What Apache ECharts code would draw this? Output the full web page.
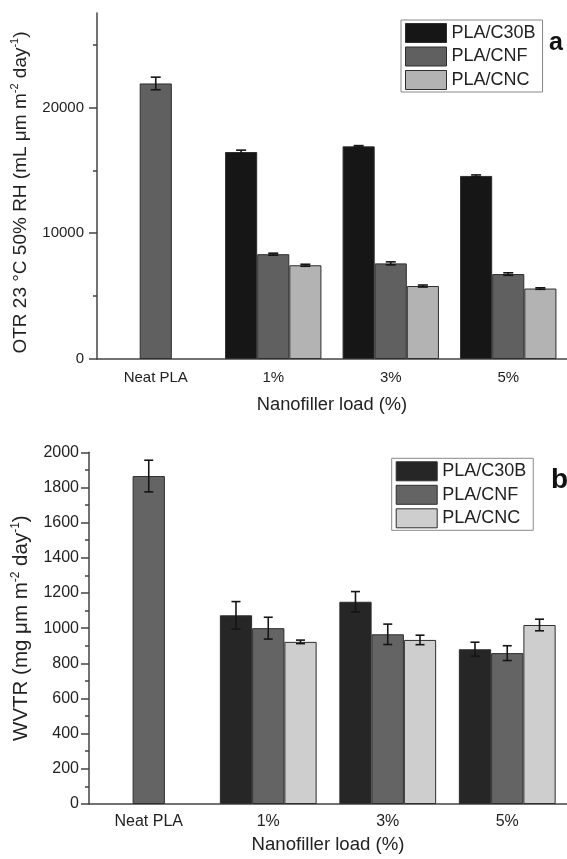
<!DOCTYPE html>
<html><head><meta charset="utf-8">
<script src="https://cdn.jsdelivr.net/npm/echarts@6/dist/echarts.min.js"></script>
<style>html,body{margin:0;padding:0;background:#fff}#c{width:567px;height:859px}</style>
</head><body><div id="c"></div>
<script>
// ---- data ----
const categories = ['Neat PLA', '1%', '3%', '5%'];
const seriesNames = ['PLA/C30B', 'PLA/CNF', 'PLA/CNC'];

// (a) OTR 23 °C 50% RH
const otrC30B = [null, 16450, 16900, 14550];
const otrCNF  = [21900, 8330, 7600, 6750];
const otrCNC  = [null, 7450, 5800, 5600];
const otrC30BErr = [null, 150, 60, 80];
const otrCNFErr  = [500, 80, 120, 100];
const otrCNCErr  = [null, 80, 80, 60];
const otrMajorTicks = [0, 10000, 20000];
const otrMinorTicks = [5000, 15000, 25000];
const otrMax = 27500;

// (b) WVTR
const wvtrC30B = [null, 1073, 1150, 880];
const wvtrCNF  = [1865, 1000, 965, 858];
const wvtrCNC  = [null, 922, 933, 1018];
const wvtrC30BErr = [null, 78, 58, 40];
const wvtrCNFErr  = [90, 62, 58, 42];
const wvtrCNCErr  = [null, 10, 27, 33];
const wvtrMax = 2000;
const wvtrInterval = 200;

// ---- styling ----
const FONT = "'Liberation Sans', Arial, sans-serif";
const colorsA = ['#161616', '#606060', '#b3b3b3'];
const colorsB = ['#262626', '#646464', '#cecece'];
const edge = '#2e2e2e';
const axisCol = '#444';
const txtCol = '#222';
const gapA = 0.18, gapB = 0.19;
const plain = v => String(v);

function errData(vals, errs) {
  const out = [];
  vals.forEach((v, i) => { if (v != null) out.push([i, v - errs[i], v + errs[i]]); });
  return out;
}
function errRender(offsetIdx, catGap, capW) {
  return function (params, api) {
    const x = api.value(0), lo = api.value(1), hi = api.value(2);
    const t = api.coord([x, hi]), b = api.coord([x, lo]);
    const band = api.size([1, 0])[0];
    const bw = band * (1 - catGap) / 3;
    const cx = t[0] + offsetIdx * bw;
    const st = { stroke: '#151515', lineWidth: 1.6 };
    return { type: 'group', children: [
      { type: 'line', shape: { x1: cx, y1: t[1], x2: cx, y2: b[1] }, style: st },
      { type: 'line', shape: { x1: cx - capW / 2, y1: t[1], x2: cx + capW / 2, y2: t[1] }, style: st },
      { type: 'line', shape: { x1: cx - capW / 2, y1: b[1], x2: cx + capW / 2, y2: b[1] }, style: st }
    ]};
  };
}

const axisLine = { show: true, lineStyle: { color: axisCol, width: 1.5 } };
const tickStyle = { color: axisCol, width: 1.5 };

function barSeries(name, data, color, xi, yi, gap) {
  return { type: 'bar', name, data, xAxisIndex: xi, yAxisIndex: yi,
    barGap: '0%', barCategoryGap: (gap * 100) + '%',
    itemStyle: { color, borderColor: edge, borderWidth: 1 }, z: 2 };
}
function errSeries(vals, errs, off, xi, yi, gap, cap) {
  return { type: 'custom', data: errData(vals, errs), xAxisIndex: xi, yAxisIndex: yi,
    encode: { x: 0, y: [1, 2] }, renderItem: errRender(off, gap, cap), z: 5, clip: false };
}

const chart = echarts.init(document.getElementById('c'), null, { renderer: 'canvas' });
chart.setOption({
  animation: false,
  backgroundColor: '#fff',
  textStyle: { fontFamily: FONT },
  title: [
    { text: 'a', left: 549, top: 31, padding: 0, textStyle: { fontFamily: FONT, fontSize: 25, fontWeight: 'bold', color: '#111' } },
    { text: 'b', left: 551, top: 466, padding: 0, textStyle: { fontFamily: FONT, fontSize: 28, fontWeight: 'bold', color: '#111' } }
  ],
  grid: [
    { left: 97, top: 13, width: 470, height: 346 },
    { left: 89, top: 452.3, width: 478, height: 351.7 }
  ],
  legend: [
    { left: 401, top: 20, orient: 'vertical', icon: 'rect', itemWidth: 41, itemHeight: 19, itemGap: 3.5,
      padding: [3, 7, 2, 4], borderColor: '#888', borderWidth: 1,
      textStyle: { fontFamily: FONT, fontSize: 18, color: txtCol },
      data: seriesNames.map((n, i) => ({ name: n, itemStyle: { color: colorsA[i], borderColor: edge, borderWidth: 1 } })) },
    { left: 391.7, top: 458.3, orient: 'vertical', icon: 'rect', itemWidth: 41, itemHeight: 19, itemGap: 3.5,
      padding: [3, 7, 2, 4], borderColor: '#888', borderWidth: 1,
      textStyle: { fontFamily: FONT, fontSize: 18, color: txtCol },
      data: seriesNames.map((n, i) => ({ name: n, itemStyle: { color: colorsB[i], borderColor: edge, borderWidth: 1 } })) }
  ],
  xAxis: [
    { type: 'category', gridIndex: 0, data: categories, position: 'bottom',
      axisLine, axisTick: { alignWithLabel: true, length: 7, lineStyle: tickStyle },
      axisLabel: { fontSize: 15, color: txtCol, margin: 11, fontFamily: FONT },
      name: 'Nanofiller load (%)', nameLocation: 'middle', nameGap: 37,
      nameTextStyle: { fontSize: 18.3, color: txtCol, fontFamily: FONT } },
    { type: 'category', gridIndex: 0, data: categories, position: 'bottom',
      axisLine: { show: false }, axisTick: { length: 4, lineStyle: tickStyle }, axisLabel: { show: false } },
    { type: 'category', gridIndex: 1, data: categories, position: 'bottom',
      axisLine, axisTick: { alignWithLabel: true, length: 6, lineStyle: tickStyle },
      axisLabel: { fontSize: 16, color: txtCol, margin: 10, fontFamily: FONT },
      name: 'Nanofiller load (%)', nameLocation: 'middle', nameGap: 31,
      nameTextStyle: { fontSize: 18.6, color: txtCol, fontFamily: FONT } },
    { type: 'category', gridIndex: 1, data: categories, position: 'bottom',
      axisLine: { show: false }, axisTick: { length: 4, lineStyle: tickStyle }, axisLabel: { show: false } }
  ],
  yAxis: [
    { type: 'value', gridIndex: 0, min: 0, max: otrMax, position: 'left',
      axisLine, splitLine: { show: false },
      axisTick: { show: true, length: 8, lineStyle: tickStyle, customValues: otrMajorTicks },
      axisLabel: { fontSize: 15, color: txtCol, margin: 13, fontFamily: FONT, customValues: otrMajorTicks, formatter: plain },
      name: 'OTR 23 °C 50% RH (mL μm m{sup|-2} day{sup|-1})', nameLocation: 'middle', nameGap: 63, nameRotate: 90,
      nameTextStyle: { fontSize: 19, color: txtCol, fontFamily: FONT, lineHeight: 22, padding: [0, 13, 0, 0],
        rich: { sup: { fontSize: 11, lineHeight: 12, verticalAlign: 'top', color: txtCol, fontFamily: FONT } } } },
    { type: 'value', gridIndex: 0, min: 0, max: otrMax, position: 'left',
      axisLine: { show: false }, splitLine: { show: false },
      axisTick: { show: true, length: 4, lineStyle: tickStyle, customValues: otrMinorTicks },
      axisLabel: { show: false } },
    { type: 'value', gridIndex: 1, min: 0, max: wvtrMax, interval: wvtrInterval, position: 'left',
      axisLine, splitLine: { show: false },
      axisTick: { show: true, length: 8, lineStyle: tickStyle },
      minorTick: { show: true, splitNumber: 2, length: 4, lineStyle: tickStyle },
      minorSplitLine: { show: false },
      axisLabel: { fontSize: 16, color: txtCol, margin: 10, fontFamily: FONT, formatter: plain },
      name: 'WVTR (mg μm m{sup|-2} day{sup|-1})', nameLocation: 'middle', nameGap: 55, nameRotate: 90,
      nameTextStyle: { fontSize: 20.5, color: txtCol, fontFamily: FONT, lineHeight: 23,
        rich: { sup: { fontSize: 12, lineHeight: 12, verticalAlign: 'top', color: txtCol, fontFamily: FONT } } } }
  ],
  series: [
    barSeries(seriesNames[0], otrC30B, colorsA[0], 0, 0, gapA),
    barSeries(seriesNames[1], otrCNF, colorsA[1], 0, 0, gapA),
    barSeries(seriesNames[2], otrCNC, colorsA[2], 0, 0, gapA),
    errSeries(otrC30B, otrC30BErr, -1, 0, 0, gapA, 10),
    errSeries(otrCNF, otrCNFErr, 0, 0, 0, gapA, 10),
    errSeries(otrCNC, otrCNCErr, 1, 0, 0, gapA, 10),
    barSeries(seriesNames[0], wvtrC30B, colorsB[0], 2, 2, gapB),
    barSeries(seriesNames[1], wvtrCNF, colorsB[1], 2, 2, gapB),
    barSeries(seriesNames[2], wvtrCNC, colorsB[2], 2, 2, gapB),
    errSeries(wvtrC30B, wvtrC30BErr, -1, 2, 2, gapB, 9),
    errSeries(wvtrCNF, wvtrCNFErr, 0, 2, 2, gapB, 9),
    errSeries(wvtrCNC, wvtrCNCErr, 1, 2, 2, gapB, 9)
  ]
});
</script>
</body></html>
